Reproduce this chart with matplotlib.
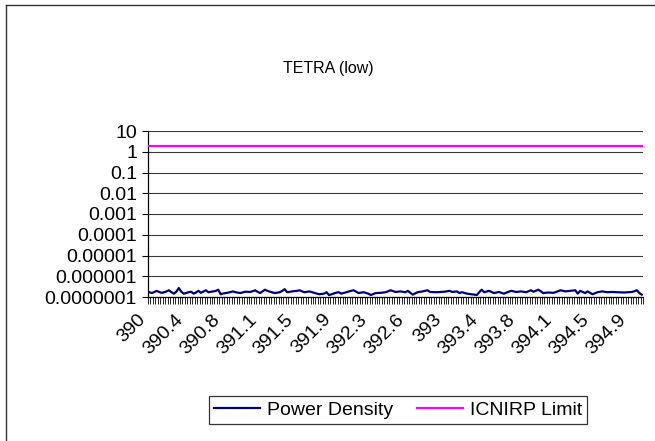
import numpy as np
import matplotlib
matplotlib.use("Agg")
import matplotlib.pyplot as plt
from matplotlib.lines import Line2D
from matplotlib.ticker import FixedLocator, NullFormatter
from decimal import Decimal, ROUND_HALF_UP

plt.rcParams['font.family'] = ['Liberation Sans', 'DejaVu Sans']

# ---- data ----
title = "TETRA (low)"
freqs = np.round(390 + 0.025 * np.arange(201), 3)  # MHz, categories
power_density_e7 = [
    1.70, 1.55, 1.72, 1.98, 1.75, 1.59, 1.68, 1.85, 2.11, 1.70,
    1.45, 1.80, 2.70, 1.80, 1.45, 1.58, 1.70, 1.80, 1.45, 1.66,
    1.98, 1.59, 1.82, 2.11, 1.70, 1.78, 1.86, 1.95, 2.24, 1.36,
    1.48, 1.55, 1.62, 1.74, 1.86, 1.70, 1.63, 1.55, 1.68, 1.80,
    1.77, 1.75, 1.90, 2.11, 1.78, 1.55, 1.85, 2.24, 1.98, 1.80,
    1.66, 1.55, 1.62, 1.70, 1.96, 2.39, 1.70, 1.78, 1.86, 1.92,
    1.98, 2.11, 1.88, 1.70, 1.78, 1.86, 1.72, 1.59, 1.46, 1.36,
    1.40, 1.45, 1.70, 1.24, 1.36, 1.50, 1.62, 1.70, 1.45, 1.58,
    1.70, 1.84, 1.98, 2.11, 1.80, 1.55, 1.62, 1.70, 1.57, 1.45,
    1.24, 1.40, 1.55, 1.57, 1.59, 1.64, 1.70, 1.88, 2.11, 1.92,
    1.75, 1.80, 1.86, 1.78, 1.70, 1.98, 1.60, 1.30, 1.50, 1.70,
    1.78, 1.86, 1.98, 2.11, 1.75, 1.72, 1.71, 1.70, 1.74, 1.77,
    1.80, 1.88, 1.98, 1.75, 1.80, 1.86, 1.55, 1.70, 1.58, 1.45,
    1.40, 1.35, 1.30, 1.24, 1.70, 2.24, 1.70, 1.84, 1.98, 1.76,
    1.55, 1.65, 1.75, 1.60, 1.45, 1.62, 1.80, 1.98, 1.86, 1.75,
    1.80, 1.86, 1.78, 1.70, 1.90, 2.11, 1.80, 2.00, 2.24, 1.88,
    1.55, 1.60, 1.65, 1.62, 1.59, 1.70, 1.90, 2.11, 1.98, 1.86,
    1.92, 1.98, 2.04, 2.11, 1.45, 1.98, 1.76, 1.55, 1.86, 1.60,
    1.36, 1.52, 1.70, 1.78, 1.86, 1.78, 1.70, 1.72, 1.75, 1.72,
    1.70, 1.68, 1.66, 1.65, 1.68, 1.72, 1.75, 1.90, 2.11, 1.55,
    1.30,
]
icnirp_limit_value = 1.96  # W/m^2, flat line
y_ticks = [1e-7, 1e-6, 1e-5, 1e-4, 1e-3, 1e-2, 1e-1, 1, 10]
y_tick_labels = ["0.0000001", "0.000001", "0.00001", "0.0001", "0.001",
                 "0.01", "0.1", "1", "10"]
label_step = 15

power_density = np.array(power_density_e7) * 1e-7
icnirp_limit = np.full(len(freqs), icnirp_limit_value)

def fmt_freq(f):
    d = Decimal(str(f)).quantize(Decimal("0.1"), rounding=ROUND_HALF_UP)
    s = str(d)
    return s[:-2] if s.endswith(".0") else s

# ---- figure ----
W, H = 655, 441
fig = plt.figure(figsize=(W / 100, H / 100), dpi=100)
fig.patch.set_facecolor("white")

L, R, T, B = 148, 643, 131, 297
ax = fig.add_axes([L / W, 1 - B / H, (R - L) / W, (B - T) / H])

x = np.arange(len(freqs))
ax.plot(x, power_density, color="#000080", lw=1.6, solid_joinstyle="round",
        label="Power Density", zorder=3)
ax.plot(x, icnirp_limit, color="#FF00FF", lw=1.6, label="ICNIRP Limit",
        zorder=3)

ax.set_yscale("log")
ax.set_ylim(1e-7, 10)
ax.set_xlim(-0.5, len(freqs) - 0.5)

ax.yaxis.set_major_locator(FixedLocator(y_ticks))
ax.set_yticklabels(y_tick_labels)
ax.yaxis.set_minor_locator(FixedLocator([]))
ax.yaxis.grid(True, which="major", color="#3a3a3a", lw=0.8)
ax.tick_params(axis="y", which="major", direction="out", length=4,
               width=0.8, pad=4, labelsize=14, color="black")

# x: labels at category centers, tick marks at category boundaries
label_pos = x[::label_step]
ax.set_xticks(label_pos)
ax.set_xticklabels([fmt_freq(f) for f in freqs[::label_step]],
                   rotation=45, ha="right", va="top", rotation_mode="default")
ax.set_xticks(np.arange(len(freqs) + 1) - 0.5, minor=True)
ax.xaxis.set_minor_formatter(NullFormatter())
ax.tick_params(axis="x", which="major", length=0, pad=10, labelsize=14)
ax.tick_params(axis="x", which="minor", direction="out", length=5,
               width=0.6, color="black")

for s in ["top", "right"]:
    ax.spines[s].set_visible(False)
for s in ["left", "bottom"]:
    ax.spines[s].set_color("black")
    ax.spines[s].set_linewidth(0.9)

fig.text(328 / W, 1 - 68 / H, title, ha="center", va="center", fontsize=11.5)

leg = fig.legend(loc="center", bbox_to_anchor=(398 / W, 1 - 410 / H), ncol=2,
                 fontsize=14, frameon=True, fancybox=False, handlelength=2.4,
                 handletextpad=0.35, columnspacing=1.2, borderpad=0.25)
leg.get_frame().set_edgecolor("black")
leg.get_frame().set_linewidth(0.9)

# chart-area border (left and top visible; right/bottom cropped)
fig.add_artist(Line2D([6 / W, 6 / W], [-0.05, 1 - 5 / H], color="#333333",
                      lw=1.0, transform=fig.transFigure))
fig.add_artist(Line2D([6 / W, 1.05], [1 - 5 / H, 1 - 5 / H], color="#333333",
                      lw=1.0, transform=fig.transFigure))

fig.savefig("out.png", dpi=100)
